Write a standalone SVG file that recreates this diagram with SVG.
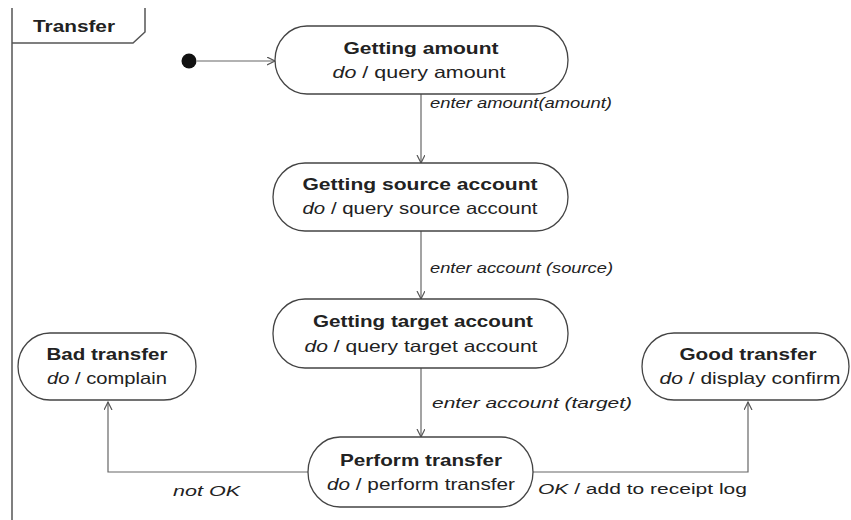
<svg xmlns="http://www.w3.org/2000/svg" width="851" height="520" viewBox="0 0 851 520">
  <style>
    .node { fill: #ffffff; stroke: #444; stroke-width: 1.3; }
    .conn { fill: none; stroke: #666; stroke-width: 1.2; }
    .t { font-family: "Liberation Sans", Arial, sans-serif; fill: #222; }
    .title { font-size: 17px; font-weight: bold; text-anchor: middle; }
    .sub { font-size: 16.5px; text-anchor: middle; }
    .lbl { font-size: 15.5px; font-style: italic; }
    .it { font-style: italic; }
    .frame { fill: none; stroke: #555; stroke-width: 1.5; }
  </style>
  <defs>
    <marker id="open" markerWidth="10" markerHeight="10" refX="8" refY="4" orient="auto" markerUnits="userSpaceOnUse">
      <path d="M0,0 L8,4 L0,8" fill="none" stroke="#555" stroke-width="1.2"/>
    </marker>
  </defs>

  <g id="frame">
    <path class="frame" d="M12,8 L12,520"/>
    <path class="frame" d="M12,43 L133,43 L145,32 L145,8"/>
    <text class="t" x="74" y="32" font-size="16" font-weight="bold" text-anchor="middle" textLength="82" lengthAdjust="spacingAndGlyphs">Transfer</text>
  </g>

  <g id="connectors">
    <path class="conn" d="M197,61 L275,61" marker-end="url(#open)"/>
    <path class="conn" d="M421,94 L421,163" marker-end="url(#open)"/>
    <path class="conn" d="M421,231 L421,299" marker-end="url(#open)"/>
    <path class="conn" d="M421,368 L421,437" marker-end="url(#open)"/>
    <path class="conn" d="M308,472 L108,472 L108,402" marker-end="url(#open)"/>
    <path class="conn" d="M533,472 L748,472 L748,402" marker-end="url(#open)"/>
    <text class="t lbl" x="430" y="108" textLength="182" lengthAdjust="spacingAndGlyphs">enter amount(amount)</text>
    <text class="t lbl" x="430" y="273" textLength="183" lengthAdjust="spacingAndGlyphs">enter account (source)</text>
    <text class="t lbl" x="432" y="408" textLength="200" lengthAdjust="spacingAndGlyphs">enter account (target)</text>
    <text class="t lbl" x="173" y="496" textLength="67" lengthAdjust="spacingAndGlyphs">not OK</text>
    <text class="t" font-size="15.5" x="538" y="494" textLength="209" lengthAdjust="spacingAndGlyphs"><tspan class="it">OK</tspan> / add to receipt log</text>
  </g>

  <g id="initial">
    <circle cx="189" cy="61" r="7.5" fill="#111"/>
  </g>

  <g id="getting-amount">
    <rect class="node" x="275" y="26" width="293" height="68" rx="32" ry="34"/>
    <text class="t title" x="421" y="54" textLength="155" lengthAdjust="spacingAndGlyphs">Getting amount</text>
    <text class="t sub" x="419" y="78" textLength="173" lengthAdjust="spacingAndGlyphs"><tspan class="it">do</tspan> / query amount</text>
  </g>

  <g id="getting-source-account">
    <rect class="node" x="273" y="163" width="295" height="68" rx="32" ry="34"/>
    <text class="t title" x="420" y="190" textLength="235" lengthAdjust="spacingAndGlyphs">Getting source account</text>
    <text class="t sub" x="420" y="214" textLength="235" lengthAdjust="spacingAndGlyphs"><tspan class="it">do</tspan> / query source account</text>
  </g>

  <g id="getting-target-account">
    <rect class="node" x="273" y="299" width="295" height="69" rx="32" ry="34"/>
    <text class="t title" x="423" y="327" textLength="220" lengthAdjust="spacingAndGlyphs">Getting target account</text>
    <text class="t sub" x="421" y="352" textLength="233" lengthAdjust="spacingAndGlyphs"><tspan class="it">do</tspan> / query target account</text>
  </g>

  <g id="perform-transfer">
    <rect class="node" x="308" y="437" width="225" height="70" rx="32" ry="35"/>
    <text class="t title" x="421" y="466" textLength="162" lengthAdjust="spacingAndGlyphs">Perform transfer</text>
    <text class="t sub" x="421" y="490" textLength="188" lengthAdjust="spacingAndGlyphs"><tspan class="it">do</tspan> / perform transfer</text>
  </g>

  <g id="bad-transfer">
    <rect class="node" x="18" y="333" width="178" height="67" rx="32" ry="33.5"/>
    <text class="t title" x="107" y="360" textLength="121" lengthAdjust="spacingAndGlyphs">Bad transfer</text>
    <text class="t sub" x="107" y="384" textLength="120" lengthAdjust="spacingAndGlyphs"><tspan class="it">do</tspan> / complain</text>
  </g>

  <g id="good-transfer">
    <rect class="node" x="642" y="333" width="207" height="67" rx="32" ry="33.5"/>
    <text class="t title" x="748" y="360" textLength="137" lengthAdjust="spacingAndGlyphs">Good transfer</text>
    <text class="t sub" x="750" y="384" textLength="181" lengthAdjust="spacingAndGlyphs"><tspan class="it">do</tspan> / display confirm</text>
  </g>
</svg>
